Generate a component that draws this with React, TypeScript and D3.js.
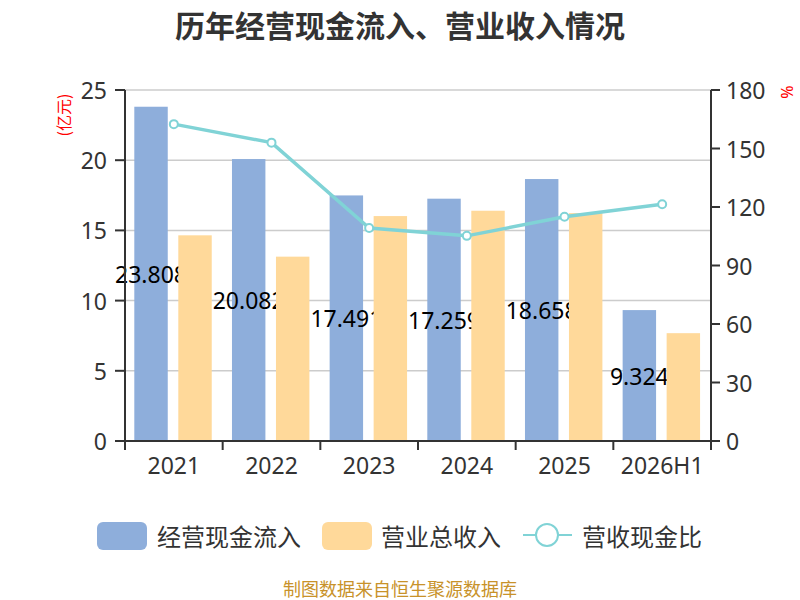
import { useEffect } from 'react';
import * as d3 from 'd3';

const years = ['2021', '2022', '2023', '2024', '2025', '2026H1'];
const cashIn = [23.808, 20.082, 17.491, 17.259, 18.658, 9.324];
const revenue = [14.65, 13.13, 16.02, 16.4, 16.23, 7.68];
const ratio = [162.5, 153.0, 109.2, 105.2, 115.0, 121.4];
const leftTicks = [0, 5, 10, 15, 20, 25];
const rightTicks = [0, 30, 60, 90, 120, 150, 180];

const BLUE = '#8eaedb';
const YELLOW = '#ffd99a';
const TEAL = '#80d3d6';
const FONT = '"Noto Sans", "Noto Sans CJK SC", sans-serif';
const CJK = '"Noto Sans CJK SC", sans-serif';

const width = 800;
const height = 600;
const margin = { top: 90, right: 89, bottom: 159, left: 125 };

const App = () => {
    useEffect(() => {
        document.body.style.margin = '0';
    }, []);

    const x = d3
        .scaleBand<string>()
        .domain(years)
        .range([margin.left, width - margin.right]);

    const sub = d3
        .scaleBand<string>()
        .domain(['cash', 'rev'])
        .range([0, x.bandwidth()])
        .paddingInner(0.24)
        .paddingOuter(0.23)
        .align(0.46);

    const y = d3.scaleLinear().domain([0, 25]).range([height - margin.bottom, margin.top]);
    const y2 = d3.scaleLinear().domain([0, 180]).range([height - margin.bottom, margin.top]);

    const line = d3
        .line<number>()
        .x((_, i) => (x(years[i]) as number) + x.bandwidth() / 2)
        .y((d) => y2(d));

    const x0 = margin.left;
    const x1 = width - margin.right;
    const yb = height - margin.bottom;
    const cashCenter = (yr: string) => (x(yr) as number) + (sub('cash') as number) + sub.bandwidth() / 2;

    return (
        <svg width={width} height={height} style={{ display: 'block', fontFamily: FONT }}>
            {/* title */}
            <text x={400} y={24} textAnchor="middle" dominantBaseline="central" fontSize={30} fontWeight="bold" fill="#333" fontFamily={CJK}>
                历年经营现金流入、营业收入情况
            </text>

            {/* grid */}
            {leftTicks.map((t) => (
                <line key={t} x1={x0} x2={x1} y1={y(t)} y2={y(t)} stroke="#cccccc" strokeWidth={1.5} />
            ))}

            {/* cash bars */}
            {years.map((yr, i) => (
                <rect
                    key={yr}
                    x={(x(yr) as number) + (sub('cash') as number)}
                    y={y(cashIn[i])}
                    width={sub.bandwidth()}
                    height={yb - y(cashIn[i])}
                    fill={BLUE}
                />
            ))}

            {/* value labels, partly hidden under the revenue bars */}
            {years.map((yr, i) => (
                <text
                    key={yr}
                    x={cashCenter(yr)}
                    y={(y(cashIn[i]) + yb) / 2}
                    textAnchor="middle"
                    dominantBaseline="central"
                    fontSize={23}
                    fill="#000"
                >
                    {cashIn[i]}
                </text>
            ))}

            {/* revenue bars */}
            {years.map((yr, i) => (
                <rect
                    key={yr}
                    x={(x(yr) as number) + (sub('rev') as number)}
                    y={y(revenue[i])}
                    width={sub.bandwidth()}
                    height={yb - y(revenue[i])}
                    fill={YELLOW}
                />
            ))}

            {/* line */}
            <path d={line(ratio) ?? ''} fill="none" stroke={TEAL} strokeWidth={3.5} />
            {ratio.map((v, i) => (
                <circle
                    key={i}
                    cx={(x(years[i]) as number) + x.bandwidth() / 2}
                    cy={y2(v)}
                    r={4}
                    fill="#fff"
                    stroke={TEAL}
                    strokeWidth={2}
                />
            ))}

            {/* left axis */}
            <line x1={x0} x2={x0} y1={margin.top} y2={yb} stroke="#333" strokeWidth={2} />
            {leftTicks.map((t) => (
                <g key={t}>
                    <line x1={x0 - 10} x2={x0} y1={y(t)} y2={y(t)} stroke="#333" strokeWidth={2} />
                    <text x={x0 - 18} y={y(t)} textAnchor="end" dominantBaseline="central" fontSize={23} fill="#333">
                        {t}
                    </text>
                </g>
            ))}
            <text
                transform={`translate(63,115) rotate(-90)`}
                textAnchor="middle"
                dominantBaseline="central"
                fontSize={16}
                fill="#ff0000"
                fontFamily={CJK}
            >
                (亿元)
            </text>

            {/* right axis */}
            <line x1={x1} x2={x1} y1={margin.top} y2={yb} stroke="#333" strokeWidth={2} />
            {rightTicks.map((t) => (
                <g key={t}>
                    <line x1={x1} x2={x1 + 9} y1={y2(t)} y2={y2(t)} stroke="#333" strokeWidth={2} />
                    <text x={x1 + 15} y={y2(t)} textAnchor="start" dominantBaseline="central" fontSize={23} fill="#333">
                        {t}
                    </text>
                </g>
            ))}
            <text
                transform={`translate(787,92) rotate(-90)`}
                textAnchor="middle"
                dominantBaseline="central"
                fontSize={16}
                fill="#ff0000"
            >
                %
            </text>

            {/* x axis */}
            <line x1={x0} x2={x1} y1={yb} y2={yb} stroke="#333" strokeWidth={2} />
            {[...years.map((yr) => x(yr) as number), x1].map((px, i) => (
                <line key={i} x1={px} x2={px} y1={yb} y2={yb + 9} stroke="#333" strokeWidth={2} />
            ))}
            {years.map((yr) => (
                <text
                    key={yr}
                    x={(x(yr) as number) + x.bandwidth() / 2}
                    y={465}
                    textAnchor="middle"
                    dominantBaseline="central"
                    fontSize={23}
                    fill="#333"
                >
                    {yr}
                </text>
            ))}

            {/* legend */}
            <g fontFamily={CJK} fontSize={24} fill="#333">
                <rect x={97} y={522} width={50} height={28} rx={6} fill={BLUE} />
                <text x={157} y={535} dominantBaseline="central">经营现金流入</text>
                <rect x={322} y={522} width={50} height={28} rx={6} fill={YELLOW} />
                <text x={381} y={535} dominantBaseline="central">营业总收入</text>
                <line x1={523} x2={572} y1={535} y2={535} stroke={TEAL} strokeWidth={2} />
                <circle cx={547} cy={535} r={11} fill="#fff" stroke={TEAL} strokeWidth={2} />
                <text x={582} y={535} dominantBaseline="central">营收现金比</text>
            </g>

            {/* footer */}
            <text x={400} y={588} textAnchor="middle" dominantBaseline="central" fontSize={18} fill="#c8922a" fontFamily={CJK}>
                制图数据来自恒生聚源数据库
            </text>
        </svg>
    );
};

export default App;
